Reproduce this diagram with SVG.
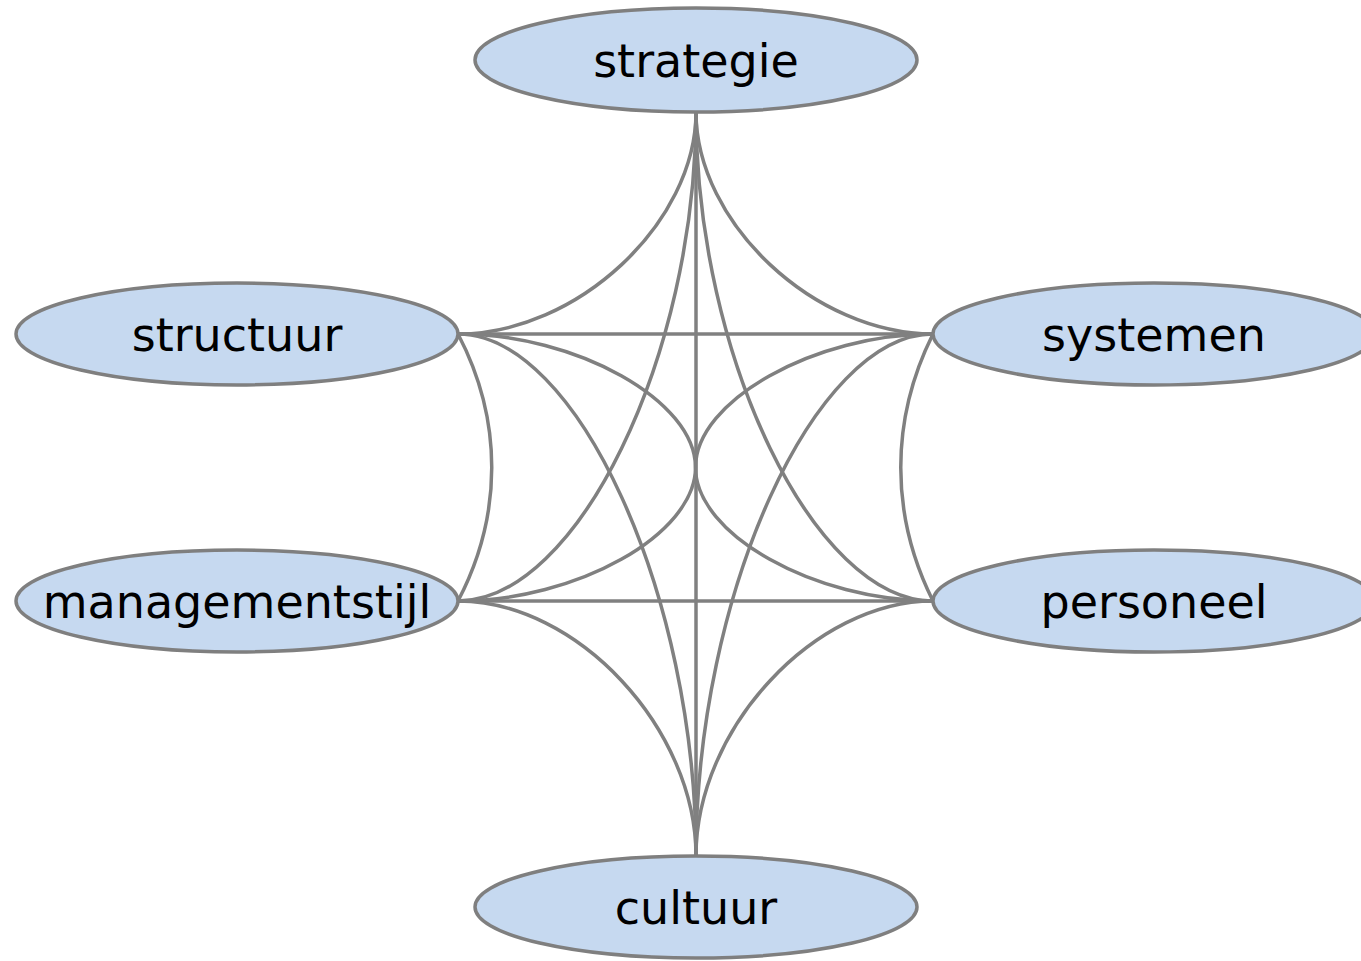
<svg xmlns="http://www.w3.org/2000/svg" width="1361" height="961" viewBox="0 0 1361 961">
<style>
.edge{fill:none;stroke:#808080;stroke-width:3.5}
.node ellipse{fill:#c6d9f0;stroke:#7f7f7f;stroke-width:3.5}
.node text{font-family:"DejaVu Sans",Verdana,sans-serif;font-size:46px;fill:#000;text-anchor:middle}
</style>
<rect width="1361" height="961" fill="#fff"/>
<g id="connectors">
<path class="edge" d="M696,112 V856"/>
<path class="edge" d="M458,334 H933"/>
<path class="edge" d="M458,601 H933"/>
<path class="edge" d="M696,112 C696,223 577,334 458,334"/>
<path class="edge" d="M696,112 C696,223 814.5,334 933,334"/>
<path class="edge" d="M696,112 C696,356.5 577,601 458,601"/>
<path class="edge" d="M696,112 C696,356.5 814.5,601 933,601"/>
<path class="edge" d="M696,856 C696,728.5 577,601 458,601"/>
<path class="edge" d="M696,856 C696,728.5 814.5,601 933,601"/>
<path class="edge" d="M696,856 C696,595 577,334 458,334"/>
<path class="edge" d="M696,856 C696,595 814.5,334 933,334"/>
<path class="edge" d="M458,334 C576.75,334 695.5,400.75 695.5,467.5 C695.5,534.25 814.25,601 933,601"/>
<path class="edge" d="M458,601 C576.75,601 695.5,534.25 695.5,467.5 C695.5,400.75 814.25,334 933,334"/>
<path class="edge" d="M458,334 C503,420 503,515 458,601"/>
<path class="edge" d="M933,334 C890,420 890,515 933,601"/>
</g>
<g id="strategie" class="node"><ellipse cx="696" cy="60" rx="221" ry="52"/><text x="696" y="77">strategie</text></g>
<g id="structuur" class="node"><ellipse cx="237" cy="334" rx="221" ry="51"/><text x="237" y="351">structuur</text></g>
<g id="systemen" class="node"><ellipse cx="1154" cy="334" rx="221" ry="51"/><text x="1154" y="351">systemen</text></g>
<g id="managementstijl" class="node"><ellipse cx="237" cy="601" rx="221" ry="51"/><text x="237" y="618">managementstijl</text></g>
<g id="personeel" class="node"><ellipse cx="1154" cy="601" rx="221" ry="51"/><text x="1154" y="618">personeel</text></g>
<g id="cultuur" class="node"><ellipse cx="696" cy="907" rx="221" ry="51"/><text x="696" y="924">cultuur</text></g>
</svg>
